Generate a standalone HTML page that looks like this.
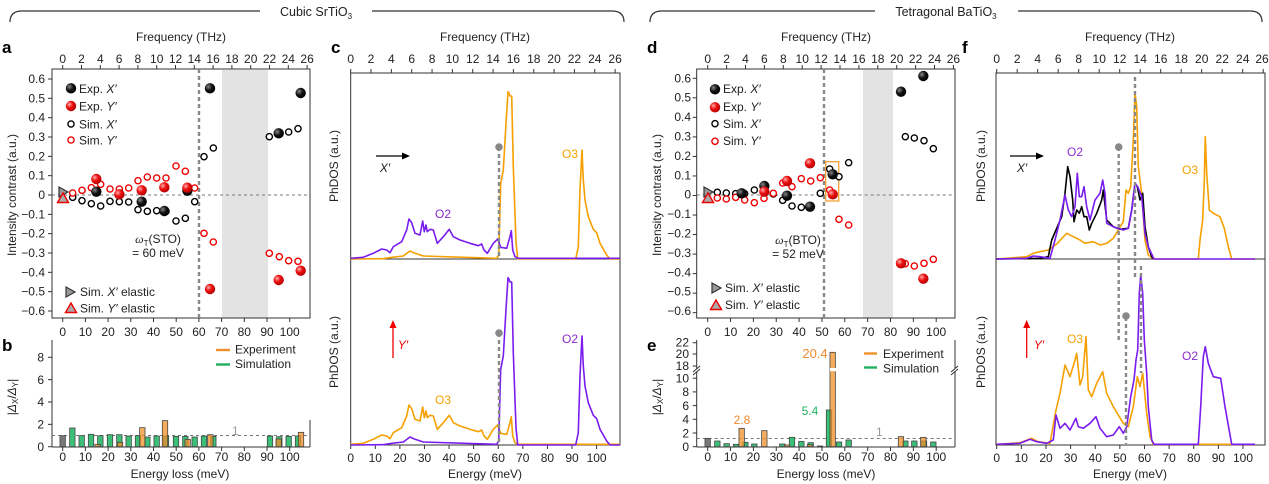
<!DOCTYPE html>
<html><head><meta charset="utf-8">
<style>
html,body{margin:0;padding:0;background:#fff;}
svg{display:block;font-family:"Liberation Sans",Arial,sans-serif;}
.t{font-size:12px;fill:#222;}
.m{text-anchor:middle;}
.r{text-anchor:end;}
.L{font-size:17px;font-weight:bold;fill:#000;}
</style></head>
<body>
<svg id="s" width="1269" height="484" viewBox="0 0 1269 484" xmlns="http://www.w3.org/2000/svg">
<defs>
<radialGradient id="gk" cx="0.35" cy="0.35" r="0.7"><stop offset="0" stop-color="#888"/><stop offset="0.5" stop-color="#111"/><stop offset="1" stop-color="#000"/></radialGradient>
<radialGradient id="gr" cx="0.35" cy="0.35" r="0.7"><stop offset="0" stop-color="#ffb0b0"/><stop offset="0.45" stop-color="#ee1111"/><stop offset="1" stop-color="#b00000"/></radialGradient>
</defs>
<g id="shapes"></g>
<path d="M10,22 Q10,11 22,11 L260,11" fill="none" stroke="#333" stroke-width="1.2"/>
<path d="M372,11 L612,11 Q624,11 624,22" fill="none" stroke="#333" stroke-width="1.2"/>
<text x="316" y="16" class="t m" style="font-size:12.5px">Cubic SrTiO<tspan font-size="8" dy="3">3</tspan></text>
<path d="M650,22 Q650,11 662,11 L875,11" fill="none" stroke="#333" stroke-width="1.2"/>
<path d="M1018,11 L1250,11 Q1262,11 1262,22" fill="none" stroke="#333" stroke-width="1.2"/>
<text x="946" y="16" class="t m" style="font-size:12.5px">Tetragonal BaTiO<tspan font-size="8" dy="3">3</tspan></text>
<text x="2" y="53" class="L">a</text>
<text x="2" y="351" class="L">b</text>
<text x="331" y="53" class="L">c</text>
<text x="647" y="53" class="L">d</text>
<text x="647" y="351" class="L">e</text>
<text x="962" y="53" class="L">f</text>
<text x="181" y="41" class="t m">Frequency (THz)</text>
<text x="485" y="41" class="t m">Frequency (THz)</text>
<text x="826" y="41" class="t m">Frequency (THz)</text>
<text x="1130" y="41" class="t m">Frequency (THz)</text>
<g class="t m">
<text x="62.7" y="63">0</text><text x="81.5" y="63">2</text><text x="100.3" y="63">4</text><text x="119.1" y="63">6</text><text x="137.9" y="63">8</text><text x="156.7" y="63">10</text><text x="175.5" y="63">12</text><text x="194.3" y="63">14</text><text x="213.1" y="63">16</text><text x="231.9" y="63">18</text><text x="250.7" y="63">20</text><text x="269.5" y="63">22</text><text x="288.3" y="63">24</text><text x="307.1" y="63">26</text>
<text x="62.7" y="336">0</text><text x="85.4" y="336">10</text><text x="108.1" y="336">20</text><text x="130.8" y="336">30</text><text x="153.5" y="336">40</text><text x="176.2" y="336">50</text><text x="198.9" y="336">60</text><text x="221.6" y="336">70</text><text x="244.3" y="336">80</text><text x="267" y="336">90</text><text x="289.7" y="336">100</text>
<text x="62.7" y="461">0</text><text x="85.4" y="461">10</text><text x="108.1" y="461">20</text><text x="130.8" y="461">30</text><text x="153.5" y="461">40</text><text x="176.2" y="461">50</text><text x="198.9" y="461">60</text><text x="221.6" y="461">70</text><text x="244.3" y="461">80</text><text x="267" y="461">90</text><text x="289.7" y="461">100</text>
<text x="180" y="478">Energy loss (meV)</text>
</g>
<g class="t r">
<text x="45" y="83">0.6</text><text x="45" y="102.3">0.5</text><text x="45" y="121.7">0.4</text><text x="45" y="141">0.3</text><text x="45" y="160.3">0.2</text><text x="45" y="179.7">0.1</text><text x="45" y="199">0</text><text x="45" y="218.3">−0.1</text><text x="45" y="237.7">−0.2</text><text x="45" y="257">−0.3</text><text x="45" y="276.3">−0.4</text><text x="45" y="295.7">−0.5</text><text x="45" y="315">−0.6</text>
<text x="44" y="451">0</text><text x="44" y="428.5">2</text><text x="44" y="406">4</text><text x="44" y="384">6</text><text x="44" y="361.5">8</text>
</g>
<text transform="translate(16,195) rotate(-90)" class="t m">Intensity contrast (a.u.)</text>
<text transform="translate(16,397) rotate(-90)" class="t m">|<tspan font-style="italic">Δ</tspan><tspan font-size="8" dy="2">X</tspan><tspan dy="-2">/</tspan><tspan font-style="italic">Δ</tspan><tspan font-size="8" dy="2">Y</tspan><tspan dy="-2">|</tspan></text>
<g class="t">
<text x="79" y="93">Exp. <tspan font-style="italic">X′</tspan></text>
<text x="79" y="110.5">Exp. <tspan font-style="italic">Y′</tspan></text>
<text x="79" y="128.5">Sim. <tspan font-style="italic">X′</tspan></text>
<text x="79" y="144.5">Sim. <tspan font-style="italic">Y′</tspan></text>
<text x="80" y="296">Sim. <tspan font-style="italic">X′</tspan> elastic</text>
<text x="80" y="312.5">Sim. <tspan font-style="italic">Y′</tspan> elastic</text>
<text x="158" y="243" class="m"><tspan font-style="italic" font-family="Liberation Serif">ω</tspan><tspan font-size="8" dy="3">T</tspan><tspan dy="-3">(STO)</tspan></text>
<text x="158" y="257" class="m">= 60 meV</text>
<text x="235" y="353.5">Experiment</text>
<text x="235" y="368">Simulation</text>
<text x="232" y="435" style="fill:#999">1</text>
</g>
<g class="t m">
<text x="350.7" y="63">0</text><text x="371" y="63">2</text><text x="391.4" y="63">4</text><text x="411.7" y="63">6</text><text x="432.1" y="63">8</text><text x="452.4" y="63">10</text><text x="472.7" y="63">12</text><text x="493.1" y="63">14</text><text x="513.4" y="63">16</text><text x="533.8" y="63">18</text><text x="554.1" y="63">20</text><text x="574.4" y="63">22</text><text x="594.8" y="63">24</text><text x="615.1" y="63">26</text>
<text x="350.7" y="462">0</text><text x="375.3" y="462">10</text><text x="399.9" y="462">20</text><text x="424.5" y="462">30</text><text x="449.1" y="462">40</text><text x="473.7" y="462">50</text><text x="498.2" y="462">60</text><text x="522.8" y="462">70</text><text x="547.4" y="462">80</text><text x="572" y="462">90</text><text x="596.6" y="462">100</text>
<text x="485" y="478">Energy (meV)</text>
</g>
<text transform="translate(338,166) rotate(-90)" class="t m">PhDOS (a.u.)</text>
<text transform="translate(338,352) rotate(-90)" class="t m">PhDOS (a.u.)</text>
<text x="385" y="172" class="t m" font-style="italic">X′</text>
<text x="403" y="349" class="t m" font-style="italic" style="fill:#e00">Y′</text>
<text x="443" y="218" class="t m" style="fill:#8a2bd0">O2</text>
<text x="570" y="158" class="t m" style="fill:#f5a000">O3</text>
<text x="443" y="404" class="t m" style="fill:#f5a000">O3</text>
<text x="570" y="343" class="t m" style="fill:#8a2bd0">O2</text>
<g class="t m">
<text x="707.7" y="63">0</text><text x="726.6" y="63">2</text><text x="745.5" y="63">4</text><text x="764.4" y="63">6</text><text x="783.3" y="63">8</text><text x="802.2" y="63">10</text><text x="821.1" y="63">12</text><text x="840" y="63">14</text><text x="858.9" y="63">16</text><text x="877.8" y="63">18</text><text x="896.7" y="63">20</text><text x="915.6" y="63">22</text><text x="934.5" y="63">24</text><text x="953.4" y="63">26</text>
<text x="707.7" y="336">0</text><text x="730.6" y="336">10</text><text x="753.4" y="336">20</text><text x="776.3" y="336">30</text><text x="799.1" y="336">40</text><text x="822" y="336">50</text><text x="844.8" y="336">60</text><text x="867.7" y="336">70</text><text x="890.5" y="336">80</text><text x="913.4" y="336">90</text><text x="936.2" y="336">100</text>
<text x="707.7" y="461">0</text><text x="730.6" y="461">10</text><text x="753.4" y="461">20</text><text x="776.3" y="461">30</text><text x="799.1" y="461">40</text><text x="822" y="461">50</text><text x="844.8" y="461">60</text><text x="867.7" y="461">70</text><text x="890.5" y="461">80</text><text x="913.4" y="461">90</text><text x="936.2" y="461">100</text>
<text x="826" y="478">Energy loss (meV)</text>
</g>
<g class="t r">
<text x="691" y="82.3">0.6</text><text x="691" y="101.7">0.5</text><text x="691" y="121.1">0.4</text><text x="691" y="140.5">0.3</text><text x="691" y="159.9">0.2</text><text x="691" y="179.3">0.1</text><text x="691" y="198.7">0</text><text x="691" y="218.1">−0.1</text><text x="691" y="237.5">−0.2</text><text x="691" y="256.9">−0.3</text><text x="691" y="276.3">−0.4</text><text x="691" y="295.7">−0.5</text><text x="691" y="315.1">−0.6</text>
<text x="689" y="451">0</text><text x="689" y="437.3">2</text><text x="689" y="423.6">4</text><text x="689" y="409.9">6</text><text x="689" y="396.2">8</text><text x="689" y="382.5">10</text><text x="689" y="370">18</text><text x="689" y="358">20</text><text x="689" y="346.7">22</text>
</g>
<text transform="translate(661,195) rotate(-90)" class="t m">Intensity contrast (a.u.)</text>
<text transform="translate(661,397) rotate(-90)" class="t m">|<tspan font-style="italic">Δ</tspan><tspan font-size="8" dy="2">X</tspan><tspan dy="-2">/</tspan><tspan font-style="italic">Δ</tspan><tspan font-size="8" dy="2">Y</tspan><tspan dy="-2">|</tspan></text>
<g class="t">
<text x="723" y="93">Exp. <tspan font-style="italic">X′</tspan></text>
<text x="723" y="111">Exp. <tspan font-style="italic">Y′</tspan></text>
<text x="723" y="128">Sim. <tspan font-style="italic">X′</tspan></text>
<text x="723" y="145">Sim. <tspan font-style="italic">Y′</tspan></text>
<text x="725" y="292">Sim. <tspan font-style="italic">X′</tspan> elastic</text>
<text x="725" y="309">Sim. <tspan font-style="italic">Y′</tspan> elastic</text>
<text x="798" y="244" class="m"><tspan font-style="italic" font-family="Liberation Serif">ω</tspan><tspan font-size="8" dy="3">T</tspan><tspan dy="-3">(BTO)</tspan></text>
<text x="798" y="258" class="m">= 52 meV</text>
<text x="883" y="358">Experiment</text>
<text x="883" y="372.5">Simulation</text>
<text x="876" y="436" style="fill:#999">1</text>
<text x="742" y="424" class="m" style="fill:#f08a30">2.8</text>
<text x="815" y="358" class="m" style="fill:#f08a30;font-size:13px">20.4</text>
<text x="810" y="415" class="m" style="fill:#22b060">5.4</text>
</g>
<g class="t m">
<text x="996.7" y="63">0</text><text x="1017.2" y="63">2</text><text x="1037.7" y="63">4</text><text x="1058.2" y="63">6</text><text x="1078.7" y="63">8</text><text x="1099.2" y="63">10</text><text x="1119.7" y="63">12</text><text x="1140.2" y="63">14</text><text x="1160.7" y="63">16</text><text x="1181.2" y="63">18</text><text x="1201.7" y="63">20</text><text x="1222.2" y="63">22</text><text x="1242.7" y="63">24</text><text x="1262" y="63">26</text>
<text x="996.7" y="462">0</text><text x="1021.3" y="462">10</text><text x="1046" y="462">20</text><text x="1070.6" y="462">30</text><text x="1095.2" y="462">40</text><text x="1119.9" y="462">50</text><text x="1144.5" y="462">60</text><text x="1169.1" y="462">70</text><text x="1193.7" y="462">80</text><text x="1218.4" y="462">90</text><text x="1243" y="462">100</text>
<text x="1130" y="478">Energy (meV)</text>
</g>
<text transform="translate(985,166) rotate(-90)" class="t m">PhDOS (a.u.)</text>
<text transform="translate(985,352) rotate(-90)" class="t m">PhDOS (a.u.)</text>
<text x="1022" y="172" class="t m" font-style="italic">X′</text>
<text x="1039" y="349" class="t m" font-style="italic" style="fill:#e00">Y′</text>
<text x="1075" y="156" class="t m" style="fill:#8a2bd0">O2</text>
<text x="1190" y="174" class="t m" style="fill:#f5a000">O3</text>
<text x="1075" y="343" class="t m" style="fill:#f5a000">O3</text>
<text x="1190" y="360" class="t m" style="fill:#8a2bd0">O2</text>
</svg>
<script>
(function(){
var NS="http://www.w3.org/2000/svg",G=document.getElementById("shapes");
function el(n,a){var e=document.createElementNS(NS,n);for(var k in a)e.setAttribute(k,a[k]);G.appendChild(e);return e;}
function line(x1,y1,x2,y2,s,w,d){return el("line",{x1:x1,y1:y1,x2:x2,y2:y2,stroke:s||"#333","stroke-width":w||1,"stroke-dasharray":d||"none"});}
function Z(ox,oy,p){return p.map(function(q){return [ox+q[0]/3,oy+q[1]/3];});}
function poly(ox,oy,p,c,w,dy){var pts=Z(ox,oy+(dy||0),p).map(function(q){return q[0].toFixed(1)+","+q[1].toFixed(1);}).join(" ");el("polyline",{points:pts,fill:"none",stroke:c,"stroke-width":w||1.6,"stroke-linejoin":"round"});}
function big(ox,oy,p,g){Z(ox,oy,p).forEach(function(q){el("circle",{cx:q[0],cy:q[1],r:5.2,fill:"url(#"+g+")"});});}
function open(ox,oy,p,c){Z(ox,oy,p).forEach(function(q){el("circle",{cx:q[0],cy:q[1],r:3.1,fill:"#fff",stroke:c,"stroke-width":1.4});});}
function triR(x,y){el("polygon",{points:(x-4)+","+(y-5)+" "+(x+5)+","+y+" "+(x-4)+","+(y+5),fill:"#999",stroke:"#333","stroke-width":1.2});}
function triU(x,y){el("polygon",{points:(x-5.5)+","+(y+4.5)+" "+(x+5.5)+","+(y+4.5)+" "+x+","+(y-5),fill:"#aaa",stroke:"#e00","stroke-width":1.4});}
function box(x1,y1,x2,y2){el("rect",{x:x1,y:y1,width:x2-x1,height:y2-y1,fill:"none",stroke:"#333","stroke-width":1});}
function xt(x0,x1,y,dir,n){for(var i=0;i<=n;i++){var x=x0+(x1-x0)*i/n;line(x,y,x,y+dir*4,"#333",1);}}
function yt(x,y0,y1,n){for(var i=0;i<=n;i++){var y=y0+(y1-y0)*i/n;line(x,y,x-4,y,"#333",1);}}

el("rect",{x:222,y:70,width:46,height:248,fill:"#e3e3e3"});
box(52,69,310,318);
xt(62.7,307.1,69,-1,13);xt(62.7,289.7,318,1,10);yt(52,79,311,12);
line(52,195,310,195,"#777",0.9,"3,3");
line(199,69,199,318,"#888",2.4,"4,3");
open(0,0,[[218,592],[246,602],[274,611],[302,618],[330,604],[358,605],[386,606],[414,629],[442,634],[470,632],[498,634],[528,663],[556,655],[584,605],[612,470],[640,444],[808,410],[866,396],[894,386]],"#000");
open(0,0,[[218,579],[246,571],[274,563],[302,553],[330,567],[358,567],[386,564],[414,542],[442,531],[470,534],[498,534],[528,498],[556,514],[584,564],[612,700],[640,726],[808,760],[838,770],[866,782],[894,784]],"#e00");
big(0,0,[[289,575],[425,605],[493,633],[562,572],[630,265],[836,400],[902,279]],"gk");
big(0,0,[[289,537],[358,583],[425,571],[493,562],[562,563],[630,867],[836,840],[902,812]],"gr");
triR(63,192);triU(63,198);
big(0,0,[[213,265]],"gk");big(0,0,[[213,318]],"gr");open(0,0,[[213,372]],"#000");open(0,0,[[213,420]],"#e00");
triR(70,292);triU(71,308);

line(52,340,52,447);line(52,447,310,447);line(310,420,310,447);
xt(62.7,289.7,447,1,10);yt(52,446.7,357.3,4);
line(52,435.5,310,435.5,"#777",0.9,"3,3");
function bars(ox,oy,base,p,c,op){Z(ox,oy,p).forEach(function(q){var b=oy+base/3;el("rect",{x:q[0]-2.7,y:q[1],width:5.4,height:b-q[1],fill:c,"fill-opacity":op,stroke:"#444","stroke-width":0.8});});}
bars(0,320,380,[[188,347]],"#777",1);
bars(0,320,380,[[217,324],[245,347],[273,343],[301,347],[330,344],[358,344],[386,348],[414,347],[442,351],[470,348],[498,348],[528,349],[556,349],[584,351],[612,348],[640,349],[810,348],[838,350],[866,349],[894,348]],"#3cc078",1);
bars(0,320,380,[[293,373],[360,367],[427,323],[495,302],[563,358],[631,344],[836,357],[903,337]],"#f0902a",0.75);
line(216,350,230,350,"#f0902a",2.4);line(216,364.5,230,364.5,"#20b060",2.4);

box(350.7,73,620,445);line(350.7,259,620,259,"#333",1);
xt(350.7,615.1,73,-1,13);xt(350.7,596.6,445,1,10);
var cP=[[62,655],[100,652],[130,640],[155,627],[170,630],[180,638],[190,620],[215,605],[230,570],[237,537],[245,548],[255,580],[270,585],[278,543],[283,575],[288,555],[292,575],[300,568],[310,570],[322,610],[340,590],[352,575],[358,568],[370,590],[390,600],[420,610],[445,617],[455,612],[462,630],[472,640],[490,610],[503,597],[508,610],[512,622],[530,625],[540,590],[544,572],[548,630],[555,650],[565,655],[870,655]];
var cO=[[62,657],[160,656],[185,652],[220,648],[240,633],[255,640],[280,648],[500,655],[506,645],[512,430],[520,390],[528,250],[534,155],[537,160],[540,168],[545,168],[550,380],[558,605],[563,657],[737,657],[745,620],[750,450],[756,330],[760,420],[765,480],[775,530],[790,568],[800,578],[810,610],[830,645],[840,657],[870,657]];
poly(330,40,cO,"#f5a000",1.6);poly(330,40,cP,"#7a1cf0",1.6);
poly(330,40,cP,"#f5a000",1.6,186);poly(330,40,cO,"#7a1cf0",1.6,186);
line(499,147,499,258,"#888",2.4,"4,3");el("circle",{cx:499,cy:147,r:3.8,fill:"#888"});
line(499,333,499,444,"#888",2.4,"4,3");el("circle",{cx:499,cy:333,r:3.8,fill:"#888"});
line(376,156,406,156,"#000",1.3);el("polygon",{points:"410,156 402,152.5 402,159.5",fill:"#000"});
line(393,358,393,324,"#e00",1.3);el("polygon",{points:"393,320 389.5,328 396.5,328",fill:"#e00"});

el("rect",{x:863,y:70,width:30,height:248,fill:"#e3e3e3"});
box(696.7,69,955,318);
xt(707.7,953.4,69,-1,13);xt(707.7,936.2,318,1,10);yt(696.7,78.3,312.7,12);
line(696.7,195,955,195,"#777",0.9,"3,3");
line(824,69,824,318,"#888",2.4,"4,3");
el("rect",{x:825.7,y:161.7,width:13,height:39.3,fill:"none",stroke:"#f5a030","stroke-width":1.3});
open(640,20,[[232,517],[259,519],[287,521],[314,521],[343,510],[372,520],[400,522],[428,541],[456,558],[484,562],[512,562],[541,520],[569,447],[597,470],[626,428],[796,350],[823,354],[852,362],[880,386]],"#000");
open(640,20,[[232,534],[259,537],[287,532],[314,540],[343,548],[372,535],[400,520],[428,489],[456,500],[484,476],[512,483],[541,473],[569,510],[597,598],[626,615],[796,731],[823,738],[852,730],[880,718]],"#e00");
big(640,20,[[305,520],[373,498],[441,527],[510,560],[578,463],[783,215],[850,168]],"gk");
big(640,20,[[373,515],[441,483],[510,430],[578,523],[783,730],[850,776]],"gr");
triR(708,192);triU(708,198);
big(640,20,[[225,208]],"gk");big(640,20,[[225,262]],"gr");open(640,20,[[225,311]],"#000");open(640,20,[[225,364]],"#e00");
triR(716,288);triU(716,305);

line(696.7,340,696.7,447);line(696.7,447,955,447);line(955,340,955,447);
xt(707.7,936.2,447,1,10);
[446.7,433,419.3,405.6,391.9,378.2,366,354,342.7].forEach(function(y){line(696.7,y,692.7,y,"#333",1);});
line(696.7,438.5,955,438.5,"#777",0.9,"3,3");
bars(640,320,380,[[203,355]],"#777",1);
bars(640,320,380,[[232,363],[260,371],[288,373],[316,367],[343,372],[427,372],[456,352],[484,364],[512,368],[540,378],[567,270],[597,366],[626,360],[796,363],[823,363],[852,363],[880,366]],"#3cc078",1);
bars(640,320,380,[[305,325],[373,332],[441,375],[510,374],[578,97],[783,350],[850,352]],"#f0902a",0.75);
el("rect",{x:690,y:368.5,width:10,height:3,fill:"#fff"});
el("rect",{x:830,y:368,width:10,height:3.2,fill:"#fff"});
el("rect",{x:950,y:368.5,width:10,height:3,fill:"#fff"});
line(693,372,700,366,"#333",1);line(693,375,700,369,"#333",1);
line(951,372,958,366,"#333",1);line(951,375,958,369,"#333",1);
line(864,353.5,877,353.5,"#f0902a",2.4);line(864,367.5,877,367.5,"#20b060",2.4);

box(996,73,1265,445);line(996,259,1265,259,"#333",1);
xt(996.7,1263.2,73,-1,13);xt(996.7,1243,445,1,10);
var fK=[[110,657],[240,655],[265,650],[275,600],[290,565],[305,530],[315,460],[323,380],[330,410],[338,480],[342,545],[350,510],[358,520],[365,500],[372,530],[380,530],[388,570],[395,550],[410,520],[425,480],[430,450],[440,540],[460,560],[480,568],[505,565],[515,510],[525,430],[532,440],[540,480],[548,460],[555,560],[565,620],[575,650],[580,657]];
var fP=[[110,657],[200,655],[220,648],[240,650],[270,655],[285,600],[300,540],[315,465],[325,510],[335,530],[345,500],[352,400],[358,470],[365,470],[372,440],[380,500],[390,540],[405,480],[420,460],[428,420],[435,460],[440,550],[460,560],[490,570],[505,565],[515,510],[525,430],[533,440],[545,470],[555,580],[565,620],[582,657],[885,657]];
var fO=[[110,657],[200,650],[220,640],[240,635],[265,630],[290,612],[320,580],[340,590],[360,600],[375,610],[400,605],[420,615],[440,610],[460,595],[475,570],[490,545],[498,450],[505,460],[512,440],[520,300],[525,160],[530,200],[535,380],[545,460],[555,600],[565,645],[580,657],[715,657],[720,600],[728,540],[733,420],[736,290],[740,400],[748,510],[760,520],[780,530],[793,565],[805,620],[815,657],[885,657]];
var fP2=[[110,1213],[180,1210],[210,1198],[230,1205],[260,1210],[280,1200],[288,1125],[300,1165],[315,1150],[330,1170],[348,1135],[355,1160],[370,1165],[390,1150],[408,1130],[420,1165],[440,1190],[460,1185],[478,1160],[490,1180],[500,1160],[512,1070],[522,1020],[528,960],[533,930],[538,760],[542,705],[548,760],[553,900],[560,1000],[565,1100],[575,1200],[582,1213],[715,1213],[722,1100],[730,950],[736,920],[745,970],[760,1010],[782,1015],[795,1100],[815,1213],[885,1213]];
var fO2=[[110,1213],[180,1208],[215,1195],[235,1205],[270,1210],[288,1110],[300,1060],[315,975],[330,1010],[345,960],[350,940],[360,1035],[368,1010],[378,890],[385,1050],[395,1070],[410,1030],[428,995],[440,1060],[460,1100],[490,1150],[505,1160],[520,1100],[532,1010],[540,1040],[548,1000],[560,1120],[570,1190],[580,1213],[885,1213]];
poly(960,40,fO,"#f5a000",1.6);poly(960,40,fK,"#000",1.6);poly(960,40,fP,"#7a1cf0",1.6);
poly(960,40,fO2,"#f5a000",1.6);poly(960,40,fP2,"#7a1cf0",1.6);
line(1135,77,1135,280,"#888",2.4,"4,3");
line(1118.7,147,1118.7,342,"#888",2.4,"4,3");el("circle",{cx:1118.7,cy:147,r:3.8,fill:"#888"});
line(1141,266,1141,373,"#888",2.4,"4,3");
line(1126,317,1126,444,"#888",2.4,"4,3");el("circle",{cx:1126,cy:316,r:3.8,fill:"#888"});
line(1010,156,1040,156,"#000",1.3);el("polygon",{points:"1044,156 1036,152.5 1036,159.5",fill:"#000"});
line(1026.7,358,1026.7,324,"#e00",1.3);el("polygon",{points:"1026.7,320 1023.2,328 1030.2,328",fill:"#e00"});
})();
</script>
</body></html>
